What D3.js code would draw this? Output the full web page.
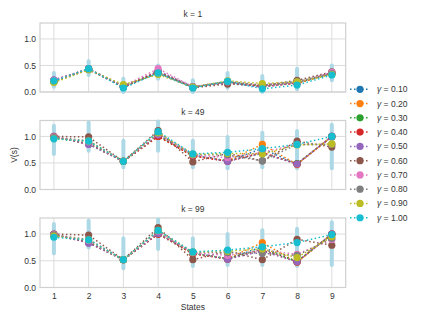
<!DOCTYPE html>
<html>
<head>
    <title>V(s) por estado</title>
    <style>
        body { margin: 0; background: #fff; }
        svg { font-family: "Liberation Sans", Arial, sans-serif; }
        .grid line { stroke: #dcdcdc; stroke-width: 1px; }
        .frame { fill: none; stroke: #d0d0d0; stroke-width: 1.2px; }
        .tick text { font-size: 8.5px; fill: #333; }
        .serie { fill: none; stroke-width: 1.5px; stroke-dasharray: 1.5,2.5; }
        .err { stroke: #add8e6; stroke-width: 4px; stroke-linecap: round; }
        .label { font-size: 8.5px; fill: #333; }
    </style>
</head>
<body>
    <svg width="432" height="324"></svg>

    <script src="https://d3js.org/d3.v7.min.js"></script>
    <script>
        // Datos
        var states = [1, 2, 3, 4, 5, 6, 7, 8, 9];
        var gammas = [0.10, 0.20, 0.30, 0.40, 0.50, 0.60, 0.70, 0.80, 0.90, 1.00];
        var colors = ["#1f77b4", "#ff7f0e", "#2ca02c", "#d62728", "#9467bd",
                      "#8c564b", "#e377c2", "#7f7f7f", "#bcbd22", "#17becf"];
        var panelTitles = ["k = 1", "k = 49", "k = 99"];
        var yTicks = [0.0, 0.5, 1.0];

        // k = 1, una fila por gamma
        var valuesK1 = [
            [0.22, 0.43, 0.09, 0.37, 0.09, 0.19, 0.10, 0.17, 0.35],
            [0.21, 0.43, 0.10, 0.38, 0.09, 0.18, 0.11, 0.16, 0.35],
            [0.20, 0.43, 0.11, 0.36, 0.10, 0.19, 0.12, 0.18, 0.34],
            [0.22, 0.44, 0.09, 0.38, 0.09, 0.18, 0.10, 0.17, 0.36],
            [0.23, 0.43, 0.10, 0.40, 0.10, 0.17, 0.09, 0.18, 0.36],
            [0.20, 0.42, 0.10, 0.38, 0.08, 0.15, 0.12, 0.22, 0.38],
            [0.22, 0.44, 0.11, 0.44, 0.10, 0.19, 0.13, 0.18, 0.37],
            [0.19, 0.43, 0.12, 0.35, 0.09, 0.20, 0.13, 0.20, 0.34],
            [0.18, 0.42, 0.14, 0.33, 0.09, 0.21, 0.16, 0.19, 0.33],
            [0.21, 0.44, 0.075, 0.36, 0.075, 0.20, 0.06, 0.13, 0.32]
        ];
        var valuesK49 = [
            [0.99, 0.86, 0.53, 1.01, 0.64, 0.54, 0.77, 0.48, 1.00],
            [0.99, 0.86, 0.53, 1.00, 0.63, 0.54, 0.85, 0.47, 1.00],
            [0.98, 0.87, 0.53, 1.02, 0.64, 0.54, 0.68, 0.49, 0.99],
            [0.99, 0.86, 0.53, 1.00, 0.63, 0.53, 0.70, 0.48, 1.00],
            [1.00, 0.85, 0.53, 1.03, 0.65, 0.53, 0.68, 0.48, 1.00],
            [1.00, 0.99, 0.53, 1.11, 0.52, 0.68, 0.54, 0.91, 0.80],
            [0.99, 0.90, 0.53, 1.05, 0.65, 0.60, 0.70, 0.85, 0.85],
            [0.98, 0.92, 0.53, 1.06, 0.66, 0.65, 0.54, 0.85, 0.85],
            [0.96, 0.91, 0.53, 1.07, 0.66, 0.68, 0.67, 0.84, 0.86],
            [0.955, 0.91, 0.53, 1.09, 0.67, 0.70, 0.77, 0.85, 1.00]
        ];
        var valuesK99 = [
            [0.99, 0.84, 0.52, 1.00, 0.64, 0.54, 0.76, 0.48, 1.00],
            [0.99, 0.84, 0.52, 1.00, 0.63, 0.54, 0.84, 0.47, 1.00],
            [0.98, 0.85, 0.52, 1.02, 0.64, 0.54, 0.72, 0.49, 0.99],
            [0.99, 0.84, 0.52, 1.00, 0.63, 0.53, 0.70, 0.48, 1.00],
            [1.00, 0.83, 0.52, 1.01, 0.65, 0.53, 0.68, 0.48, 1.00],
            [1.00, 0.98, 0.52, 1.12, 0.52, 0.68, 0.52, 0.90, 0.79],
            [0.99, 0.88, 0.52, 1.05, 0.65, 0.60, 0.70, 0.62, 0.90],
            [0.98, 0.90, 0.52, 1.06, 0.66, 0.65, 0.64, 0.60, 0.92],
            [0.96, 0.89, 0.52, 1.07, 0.66, 0.68, 0.72, 0.56, 0.95],
            [0.94, 0.89, 0.52, 1.07, 0.665, 0.70, 0.76, 0.84, 0.99]
        ];

        // Barras de error (extremo inferior y superior por estado)
        var errLoK1 = [0.10, 0.32, 0.00, 0.25, 0.00, 0.08, 0.00, 0.05, 0.22];
        var errHiK1 = [0.36, 0.58, 0.25, 0.50, 0.22, 0.36, 0.30, 0.44, 0.50];
        var errLoK49 = [0.67, 0.73, 0.42, 0.73, 0.42, 0.40, 0.42, 0.40, 0.40];
        var errHiK49 = [1.20, 1.26, 0.92, 1.28, 0.92, 0.99, 1.07, 1.10, 1.22];
        var errLoK99 = [0.64, 0.75, 0.36, 0.72, 0.40, 0.42, 0.42, 0.40, 0.42];
        var errHiK99 = [1.19, 1.25, 0.92, 1.27, 0.92, 1.00, 1.07, 1.10, 1.22];

        var panels = [
            { title: panelTitles[0], values: valuesK1, lo: errLoK1, hi: errHiK1, top: 23, bottom: 92 },
            { title: panelTitles[1], values: valuesK49, lo: errLoK49, hi: errHiK49, top: 120.5, bottom: 189.5 },
            { title: panelTitles[2], values: valuesK99, lo: errLoK99, hi: errHiK99, top: 218, bottom: 287.5 }
        ];

        var svg = d3.select("svg");
        var left = 40, right = 345.7;

        var x = d3.scaleLinear().domain([0.6, 9.4]).range([left, right]);

        panels.forEach(function(p, pi) {
            var y = d3.scaleLinear().domain([0, 1.3]).range([p.bottom, p.top]);
            var g = svg.append("g");

            // Rejilla
            var grid = g.append("g").attr("class", "grid");
            grid.selectAll(".gx").data(states).enter().append("line")
                .attr("x1", function(d) { return x(d); })
                .attr("x2", function(d) { return x(d); })
                .attr("y1", p.top).attr("y2", p.bottom);
            grid.selectAll(".gy").data(yTicks).enter().append("line")
                .attr("x1", left).attr("x2", right)
                .attr("y1", function(d) { return y(d); })
                .attr("y2", function(d) { return y(d); });

            g.append("rect").attr("class", "frame")
                .attr("x", left).attr("y", p.top)
                .attr("width", right - left).attr("height", p.bottom - p.top);

            // Ejes
            var yAxis = g.append("g")
                .attr("transform", "translate(" + left + ",0)")
                .call(d3.axisLeft(y).tickValues(yTicks).tickFormat(d3.format(".1f")).tickSize(0).tickPadding(4));
            yAxis.select(".domain").remove();

            if (pi === 2) {
                var xAxis = g.append("g")
                    .attr("transform", "translate(0," + p.bottom + ")")
                    .call(d3.axisBottom(x).tickValues(states).tickFormat(d3.format("d")).tickSize(0).tickPadding(5));
                xAxis.select(".domain").remove();
            }

            // Titulo del panel
            g.append("text").attr("class", "label")
                .attr("x", (left + right) / 2).attr("y", p.top - 6)
                .attr("text-anchor", "middle")
                .text(p.title);

            // Barras de error
            g.selectAll(".err").data(states).enter().append("line")
                .attr("class", "err")
                .attr("x1", function(d) { return x(d); })
                .attr("x2", function(d) { return x(d); })
                .attr("y1", function(d, i) { return y(p.lo[i]); })
                .attr("y2", function(d, i) { return y(p.hi[i]); });

            // Series
            var line = d3.line()
                .x(function(d, i) { return x(states[i]); })
                .y(function(d) { return y(d); });

            p.values.forEach(function(vals, si) {
                g.append("path").attr("class", "serie")
                    .attr("d", line(vals))
                    .attr("stroke", colors[si]);
                g.selectAll(".pt" + si).data(vals).enter().append("circle")
                    .attr("cx", function(d, i) { return x(states[i]); })
                    .attr("cy", function(d) { return y(d); })
                    .attr("r", 3.6)
                    .attr("fill", colors[si]);
            });
        });

        // Etiquetas de ejes
        svg.append("text").attr("class", "label")
            .attr("x", (left + right) / 2).attr("y", 310)
            .attr("text-anchor", "middle")
            .text("States");
        svg.append("text").attr("class", "label")
            .attr("transform", "translate(17,155) rotate(-90)")
            .attr("text-anchor", "middle")
            .text("V(s)");

        // Leyenda
        var legend = svg.append("g").selectAll("g")
            .data(gammas).enter().append("g")
            .attr("transform", function(d, i) { return "translate(350," + (89.3 + i * 14.27) + ")"; });
        legend.append("line").attr("class", "serie")
            .attr("x1", 0).attr("x2", 20)
            .attr("stroke", function(d, i) { return colors[i]; });
        legend.append("circle")
            .attr("cx", 10).attr("r", 3.6)
            .attr("fill", function(d, i) { return colors[i]; });
        var lt = legend.append("text").attr("class", "label")
            .attr("x", 27).attr("y", 3);
        lt.append("tspan").style("font-style", "italic").text("γ");
        lt.append("tspan").text(function(d) { return " = " + d.toFixed(2); });
    </script>
</body>
</html>
